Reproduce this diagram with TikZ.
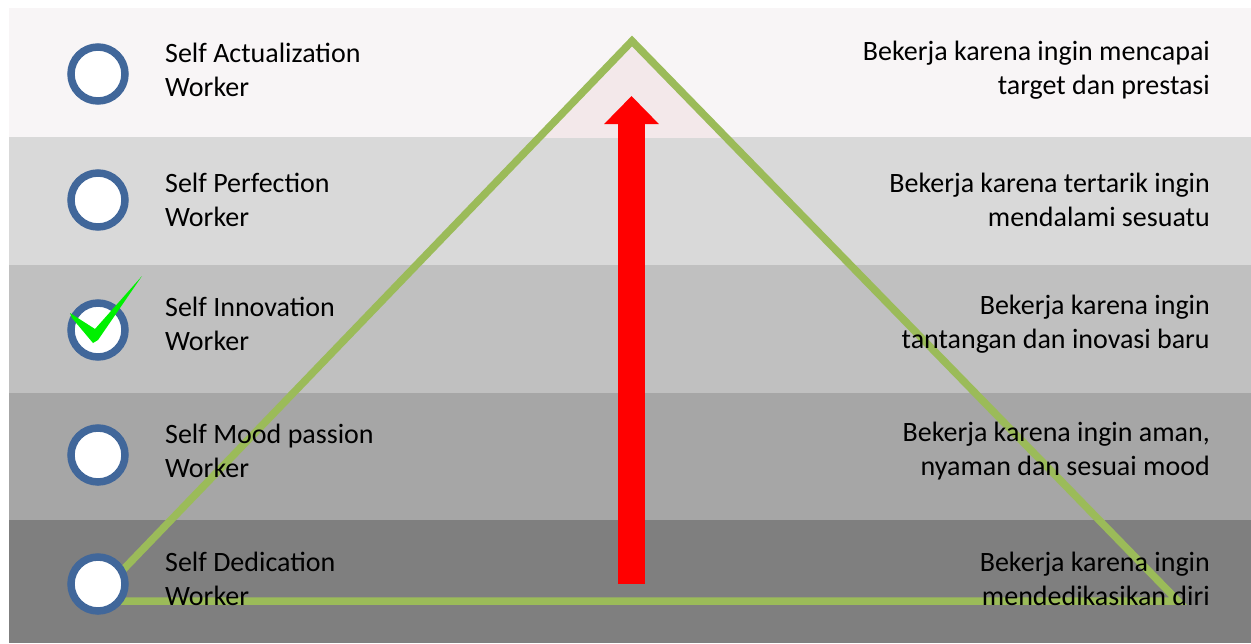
\documentclass[tikz,border=0pt]{standalone}
\usepackage{fontspec}
\setmainfont{Carlito}
\usetikzlibrary{arrows.meta}
\definecolor{bandA}{HTML}{F8F5F6}
\definecolor{bandB}{HTML}{D9D9D9}
\definecolor{bandC}{HTML}{C0C0C0}
\definecolor{bandD}{HTML}{A6A6A6}
\definecolor{bandE}{HTML}{7F7F7F}
\definecolor{pinkin}{HTML}{F3E8EA}
\definecolor{ringblue}{HTML}{41679A}
\definecolor{pyrgreen}{HTML}{9BBB59}
\definecolor{checkgreen}{HTML}{00F000}
\definecolor{arrowred}{HTML}{FF0000}
\tikzset{
  ring/.style={circle, draw=ringblue, line width=7.5pt, fill=white, minimum size=54pt, inner sep=0pt},
  lefttext/.style={anchor=west, align=left, inner sep=0pt, font=\fontsize{28}{34.5}\selectfont},
  righttext/.style={anchor=east, align=right, inner sep=0pt, font=\fontsize{28}{34.5}\selectfont},
  pyr/.style={draw=pyrgreen, line width=7.5pt, line join=miter},
}
\begin{document}
\begin{tikzpicture}[x=1pt,y=-1pt]
\useasboundingbox (0,0) rectangle (1251,643);
\fill[white] (0,0) rectangle (1251,643);
% bands
\fill[bandA] (9,8) rectangle (1251,137);
\fill[bandB] (9,137) rectangle (1251,265);
\fill[bandC] (9,265) rectangle (1251,393);
\fill[bandD] (9,393) rectangle (1251,520);
\fill[bandE] (9,520) rectangle (1251,643);
% pyramid corners
\coordinate (pl) at (93,601);
\coordinate (pt) at (632,41);
\coordinate (pr) at (1178,601);
\begin{scope}
  \clip (9,8) rectangle (1251,137);
  \fill[pinkin] (pl) -- (pt) -- (pr) -- cycle;
\end{scope}
\draw[pyr] (pl) -- (pt) -- (pr) -- cycle;
% red arrow
\coordinate (abot) at (631.5,584);
\coordinate (atop) at (631.5,96);
\draw[arrowred, line width=27pt, -{Triangle[width=53pt,length=28pt]}] (abot) -- (atop);
% rings
\node[ring] (c1) at (98,74) {};
\node[ring] (c2) at (98,200) {};
\node[ring] (c3) at (98,330) {};
\node[ring] (c4) at (98,455) {};
\node[ring] (c5) at (98,584) {};
% check mark
\fill[checkgreen] (70,313) -- (95,329) -- (142,276) -- (98,340) -- (93,343) -- (72,318) -- cycle;
% left labels
\node[lefttext] (l1) at (165,70) {Self Actualization\\Worker};
\node[lefttext] (l2) at (165,200) {Self Perfection\\Worker};
\node[lefttext] (l3) at (165,324) {Self Innovation\\Worker};
\node[lefttext] (l4) at (165,451) {Self Mood passion\\Worker};
\node[lefttext] (l5) at (165,579) {Self Dedication\\Worker};
% right labels
\node[righttext] (r1) at (1210,70) {Bekerja karena ingin mencapai\\target dan prestasi};
\node[righttext] (r2) at (1210,200) {Bekerja karena tertarik ingin\\mendalami sesuatu};
\node[righttext] (r3) at (1210,324) {Bekerja karena ingin\\tantangan dan inovasi baru};
\node[righttext] (r4) at (1210,451) {Bekerja karena ingin aman,\\nyaman dan sesuai mood};
\node[righttext] (r5) at (1210,579) {Bekerja karena ingin\\mendedikasikan diri};
\end{tikzpicture}
\end{document}
